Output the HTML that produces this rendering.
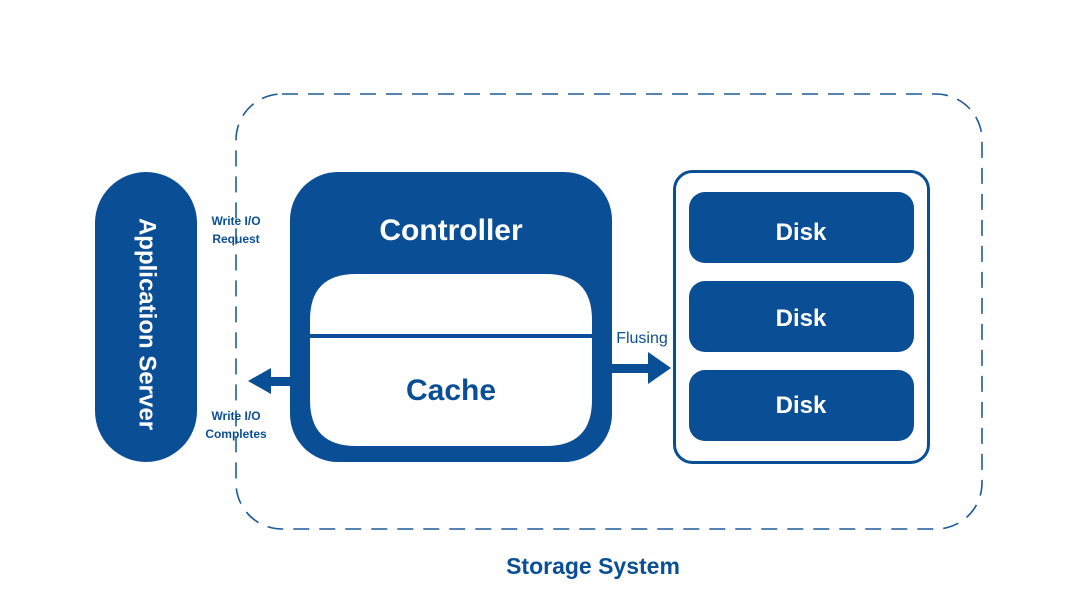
<!DOCTYPE html>
<html><head><meta charset="utf-8"><style>
html,body{margin:0;padding:0;background:#fff;}
body{width:1079px;height:607px;overflow:hidden;}
</style></head><body>
<svg width="1079" height="607" viewBox="0 0 1079 607" xmlns="http://www.w3.org/2000/svg" font-family="'Liberation Sans', sans-serif">
<rect x="236" y="94" width="746" height="435" rx="46" fill="none" stroke="#1f5a99" stroke-width="1.6" stroke-dasharray="16,10"/>
<rect x="95" y="172" width="102" height="290" rx="51" fill="#0a4f96"/>
<text transform="translate(146,324) rotate(90)" text-anchor="middle" dominant-baseline="middle" fill="#fff" font-size="24" font-weight="bold">Application Server</text>
<rect x="290" y="172" width="322" height="290" rx="48" fill="#0a4f96"/>
<path d="M310 334 V320 Q310 274 356 274 H546 Q592 274 592 320 V334 Z" fill="#fff"/>
<path d="M310 338 H592 V400 Q592 446 546 446 H356 Q310 446 310 400 Z" fill="#fff"/>
<text x="451" y="240" text-anchor="middle" fill="#fff" font-size="30" font-weight="bold">Controller</text>
<text x="451" y="400" text-anchor="middle" fill="#0a4f96" font-size="30" font-weight="bold">Cache</text>
<rect x="268" y="377" width="23" height="9" fill="#0a4f96"/>
<polygon points="248,381 271,368 271,394" fill="#0a4f96"/>
<rect x="612" y="364" width="38" height="9" fill="#0a4f96"/>
<polygon points="671,368 648,352 648,384" fill="#0a4f96"/>
<text x="642" y="343" text-anchor="middle" fill="#0a4f96" font-size="16">Flusing</text>
<text x="236" y="225" text-anchor="middle" fill="#0a4f96" font-size="12" font-weight="bold">Write I/O</text>
<text x="236" y="243" text-anchor="middle" fill="#0a4f96" font-size="12" font-weight="bold">Request</text>
<text x="236" y="420" text-anchor="middle" fill="#0a4f96" font-size="12" font-weight="bold">Write I/O</text>
<text x="236" y="438" text-anchor="middle" fill="#0a4f96" font-size="12" font-weight="bold">Completes</text>
<rect x="674.5" y="171.5" width="254" height="291" rx="18" fill="none" stroke="#0a4f96" stroke-width="3"/>
<rect x="689" y="192" width="225" height="71" rx="16" fill="#0a4f96"/>
<rect x="689" y="281" width="225" height="71" rx="16" fill="#0a4f96"/>
<rect x="689" y="370" width="225" height="71" rx="16" fill="#0a4f96"/>
<text x="801" y="240" text-anchor="middle" fill="#fff" font-size="24" font-weight="bold">Disk</text>
<text x="801" y="326" text-anchor="middle" fill="#fff" font-size="24" font-weight="bold">Disk</text>
<text x="801" y="413" text-anchor="middle" fill="#fff" font-size="24" font-weight="bold">Disk</text>
<text x="593" y="574" text-anchor="middle" fill="#0a4f96" font-size="23" font-weight="bold">Storage System</text>
</svg>
</body></html>
